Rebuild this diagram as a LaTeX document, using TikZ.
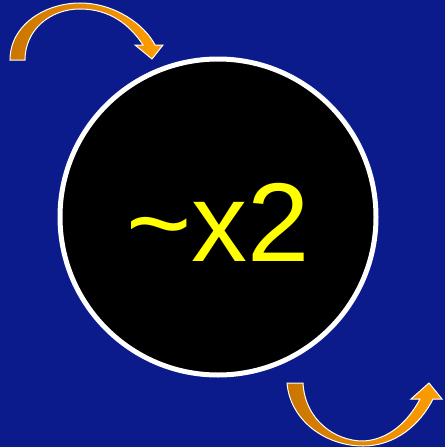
\documentclass[tikz,border=0pt]{standalone}
\usepackage{fontspec}
\setmainfont{Liberation Sans}
\definecolor{bgblue}{HTML}{0C1B8C}
\definecolor{darkor}{HTML}{C97500}
\definecolor{lightor}{HTML}{FF9E00}
\definecolor{txtyel}{HTML}{FFFF00}
\tikzset{
  curvedarrow/.style={draw=white, line width=1pt, left color=darkor, right color=lightor},
  disc/.style={circle, draw=white, line width=5pt, fill=black, minimum size=316pt, inner sep=0pt},
  bigtext/.style={text=txtyel, font=\fontsize{112}{112}\selectfont, anchor=base}
}
\begin{document}
\begin{tikzpicture}[x=1pt,y=-1pt]
\fill[bgblue] (0,0) rectangle (445,447);
\useasboundingbox (0,0) rectangle (445,447);
% top curved arrow
\path[curvedarrow] (10,60) .. controls (10,25) and (45,3) .. (80,3)
  .. controls (115,3) and (145,25) .. (155,45) -- (163,45) -- (152,59) -- (135,45) -- (143,45)
  .. controls (130,25) and (110,9) .. (80,9)
  .. controls (50,9) and (25,30) .. (25,60) -- cycle;
% circle
\node[disc] (c) at (218,217) {};
\node[bigtext] (t) at (218,261) {\raisebox{0pt}{\char`\~}x2};
% bottom curved arrow
\path[curvedarrow] (287,383) .. controls (290,420) and (325,446) .. (363,446)
  .. controls (395,446) and (420,425) .. (433,399) -- (442,399) -- (429,383) -- (411,399) -- (420,399)
  .. controls (408,422) and (388,440) .. (363,441)
  .. controls (335,441) and (305,420) .. (303,383) -- cycle;
\end{tikzpicture}
\end{document}
